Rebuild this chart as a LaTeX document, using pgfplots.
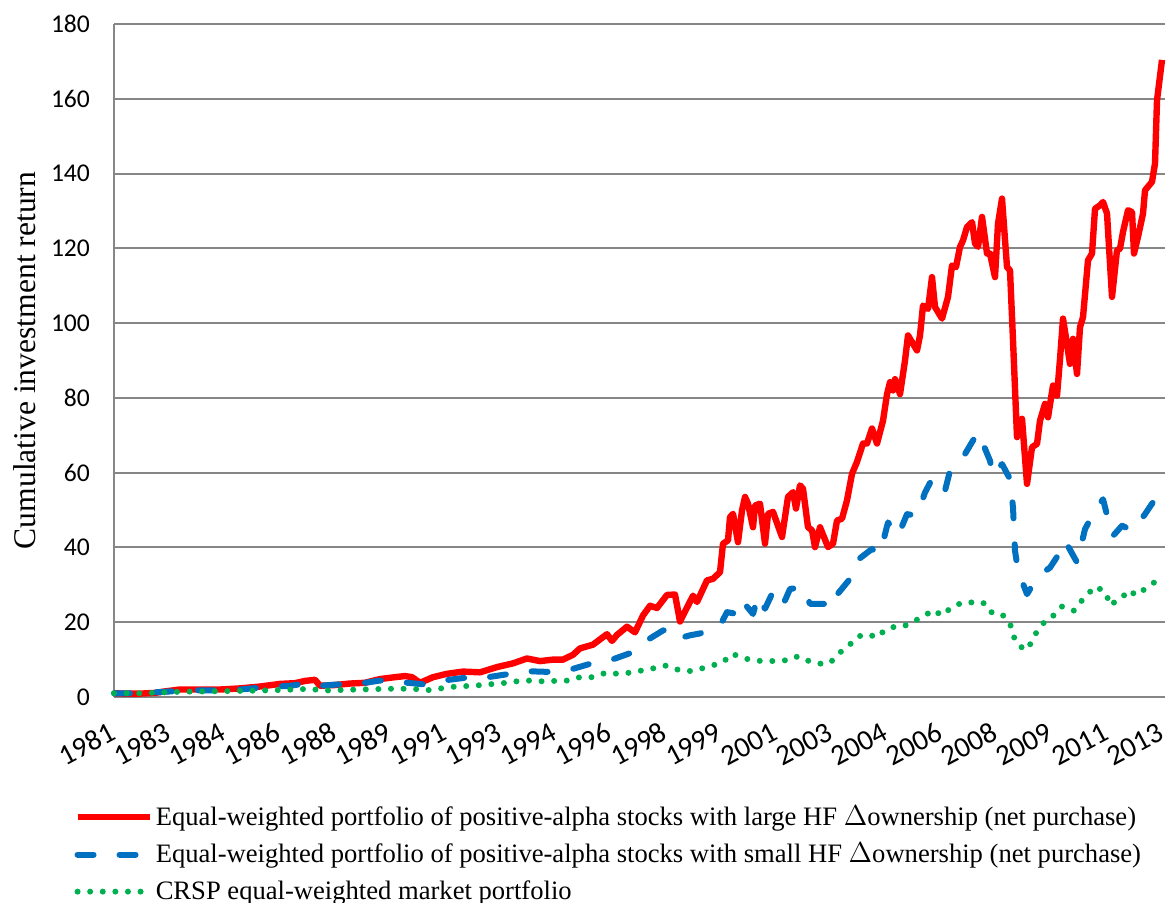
\documentclass[border=0pt]{standalone}
\usepackage{fontspec}
\setmainfont{Liberation Serif}
\newfontfamily\calibri{Carlito}
\usepackage{pgfplots}
\pgfplotsset{compat=1.18}
\usepackage{pgfplotstable}
\definecolor{exred}{HTML}{FF0000}
\definecolor{exblue}{HTML}{0070C0}
\definecolor{exgreen}{HTML}{00B050}
\definecolor{gridgray}{HTML}{868686}

% x = horizontal position along the monthly category axis (ticks every 20 months)
\pgfplotstableread{
x y
114 1.0
125 0.9
140 0.9
155 1.1
165 1.5
180 2.0
200 2.0
220 2.0
240 2.3
260 2.8
280 3.5
295 3.7
305 4.3
315 4.6
320 3.0
335 3.2
350 3.6
365 3.8
380 4.8
395 5.3
405 5.6
412 5.3
420 3.8
433 5.3
447 6.2
463 6.8
480 6.6
497 8.0
513 9.0
527 10.3
540 9.6
553 10.0
563 10.0
573 11.3
580 13.0
593 14.0
607 16.8
612 15.0
617 16.6
627 18.8
635 17.3
643 21.8
650 24.4
657 23.8
667 27.3
675 27.4
680 20.2
693 27.1
697 25.4
707 31.2
713 31.6
720 33.4
723 41.0
728 41.9
730 48.1
733 49.0
738 41.4
742 49.9
745 53.5
748 51.7
753 45.4
755 51.2
760 51.7
765 41.0
768 49.0
773 49.5
782 42.8
788 53.5
793 54.8
796 50.4
800 56.6
803 55.7
808 45.4
812 44.6
815 40.1
820 45.4
828 40.1
833 41.0
837 47.2
842 47.7
847 52.6
852 59.7
857 62.9
863 67.8
867 67.8
872 71.8
877 67.8
883 73.9
887 81.0
890 84.2
893 82.0
895 85.0
900 81.0
905 90.0
908 96.7
917 92.7
920 96.7
923 104.7
928 103.8
932 112.3
935 104.3
942 101.2
948 107.0
952 115.4
956 115.0
960 120.4
963 122.1
967 125.7
972 127.0
975 121.3
978 120.4
982 128.4
987 118.6
990 118.6
995 112.3
998 126.6
1002 133.3
1007 115.0
1010 114.1
1013 95.4
1017 69.5
1022 74.4
1027 57.0
1032 66.8
1037 67.7
1040 73.9
1045 78.4
1048 74.8
1053 83.3
1057 80.6
1060 90.4
1063 101.2
1070 89.1
1073 95.8
1077 86.4
1080 98.9
1083 101.6
1088 116.8
1092 118.6
1095 130.6
1100 131.5
1103 132.4
1107 129.3
1112 107.0
1117 119.5
1120 119.9
1123 124.4
1128 130.2
1132 129.7
1134 118.6
1138 123.1
1143 129.3
1145 135.5
1152 137.8
1155 142.7
1157 159.6
1162 170.4
}\redtab

\pgfplotstableread{
x y
114 1.0
140 1.0
165 1.4
190 1.8
215 1.8
240 2.0
265 2.6
290 3.0
310 3.8
320 3.0
340 3.4
360 3.6
380 4.4
400 4.0
423 3.4
440 4.3
467 5.2
483 5.1
510 6.2
527 6.9
550 6.7
570 7.3
593 9.1
610 9.8
633 12.0
643 14.5
663 17.8
670 18.0
678 15.6
690 16.5
700 17.0
720 19.1
727 22.7
737 22.2
742 25.8
753 22.2
758 27.1
765 23.6
772 27.6
782 24.0
790 28.9
803 29.4
810 24.9
825 24.9
830 23.6
835 26.7
850 31.6
857 36.5
872 39.6
878 38.2
882 40.4
888 46.7
898 43.1
907 48.9
917 48.5
925 54.7
933 58.8
945 55.2
950 60.5
965 65.0
973 68.6
978 70.8
983 67.7
990 63.2
993 59.2
1002 62.3
1010 58.3
1013 50.7
1015 39.1
1018 33.8
1027 27.5
1038 32.4
1050 34.6
1060 38.7
1065 41.8
1077 36.0
1085 44.9
1093 48.9
1103 52.9
1108 47.6
1113 43.1
1122 45.8
1133 44.5
1145 48.9
1155 52.9
1162 55.2
}\bluetab

\pgfplotstableread{
x y
114 1.0
140 1.0
160 1.2
180 1.4
205 1.5
233 1.6
255 1.7
272 1.8
295 2.0
310 2.2
323 1.7
345 1.9
375 2.1
387 2.2
413 2.2
427 1.8
452 2.7
477 3.1
503 3.7
517 4.2
530 4.4
542 4.2
555 4.3
568 4.4
580 5.3
593 5.3
606 6.5
618 6.2
630 6.5
642 7.1
654 7.7
666 8.4
678 7.3
689 6.9
700 7.5
712 8.4
723 9.3
732 11.6
742 10.5
753 9.8
768 9.5
779 9.8
789 9.8
798 10.9
809 9.6
819 8.9
830 9.1
839 11.7
849 13.8
858 16.2
868 16.8
877 15.9
886 18.2
895 18.8
903 18.8
913 20.2
923 21.4
933 23.3
942 21.8
952 24.1
963 25.3
973 25.3
983 25.3
990 22.7
1000 22.5
1007 20.9
1012 18.4
1015 15.0
1022 13.2
1028 12.7
1033 15.9
1040 18.6
1047 20.9
1055 22.0
1062 24.2
1067 23.5
1074 23.1
1079 24.9
1087 27.4
1096 29.6
1106 27.8
1110 24.5
1113 25.1
1121 26.3
1129 28.6
1136 27.2
1145 28.9
1154 30.6
1162 31.2
}\greentab

\begin{document}
\begin{tikzpicture}
\begin{axis}[
  at={(57pt,103pt)}, anchor=south west,
  scale only axis, width=525.5pt, height=336.5pt,
  xmin=114, xmax=1165, ymin=0, ymax=180,
  ytick={0,20,...,180},
  xtick={114,169.16,224.32,279.47,334.63,389.79,444.95,500.11,555.26,610.42,665.58,720.74,775.89,831.05,886.21,941.37,996.53,1051.68,1106.84,1162},
  xticklabels={1981,1983,1984,1986,1988,1989,1991,1993,1994,1996,1998,1999,2001,2003,2004,2006,2008,2009,2011,2013},
  axis x line*=bottom, axis y line*=left,
  axis line style={gridgray, line width=1pt},
  ymajorgrids, major grid style={gridgray, line width=1pt},
  major tick length=0pt,
  /pgf/number format/assume math mode=true,
  yticklabel style={font=\calibri\fontsize{12.8}{15}\selectfont, xshift=-8.5pt},
  xticklabel style={font=\calibri\fontsize{14.5}{17}\selectfont, yshift=-15pt, xshift=2.5pt, rotate=28, anchor=east},
  ylabel={Cumulative investment return},
  ylabel style={font=\fontsize{15.8}{19}\selectfont, at={(axis description cs:-0.0847,0.5)}, anchor=center},
  clip=false,
  legend style={at={(axis description cs:-0.0381,-0.1566)}, anchor=north west, draw=none, fill=none,
    font=\fontsize{13.3}{16}\selectfont, row sep=4.4pt, inner sep=0pt, nodes={inner sep=1.5pt}},
  legend cell align=left,
  legend image code/.code={\draw[#1] (0pt,0pt) -- (36pt,0pt);},
]
\addplot[exred, line width=3.2pt, line join=round] table {\redtab};
\addlegendentry{Equal-weighted portfolio of positive-alpha stocks with large HF $\Delta$ownership (net purchase)}
\addplot[exblue, line width=3pt, line cap=round, line join=round, dash pattern=on 8pt off 13pt] table {\bluetab};
\addlegendentry{Equal-weighted portfolio of positive-alpha stocks with small HF $\Delta$ownership (net purchase)}
\addplot[exgreen, line width=3pt, line cap=round, dash pattern=on 0pt off 6.3pt] table {\greentab};
\addlegendentry{CRSP equal-weighted market portfolio}
\end{axis}
\pgfresetboundingbox
\path[use as bounding box] (0,0) rectangle (583pt,451.5pt);
\end{tikzpicture}
\end{document}
